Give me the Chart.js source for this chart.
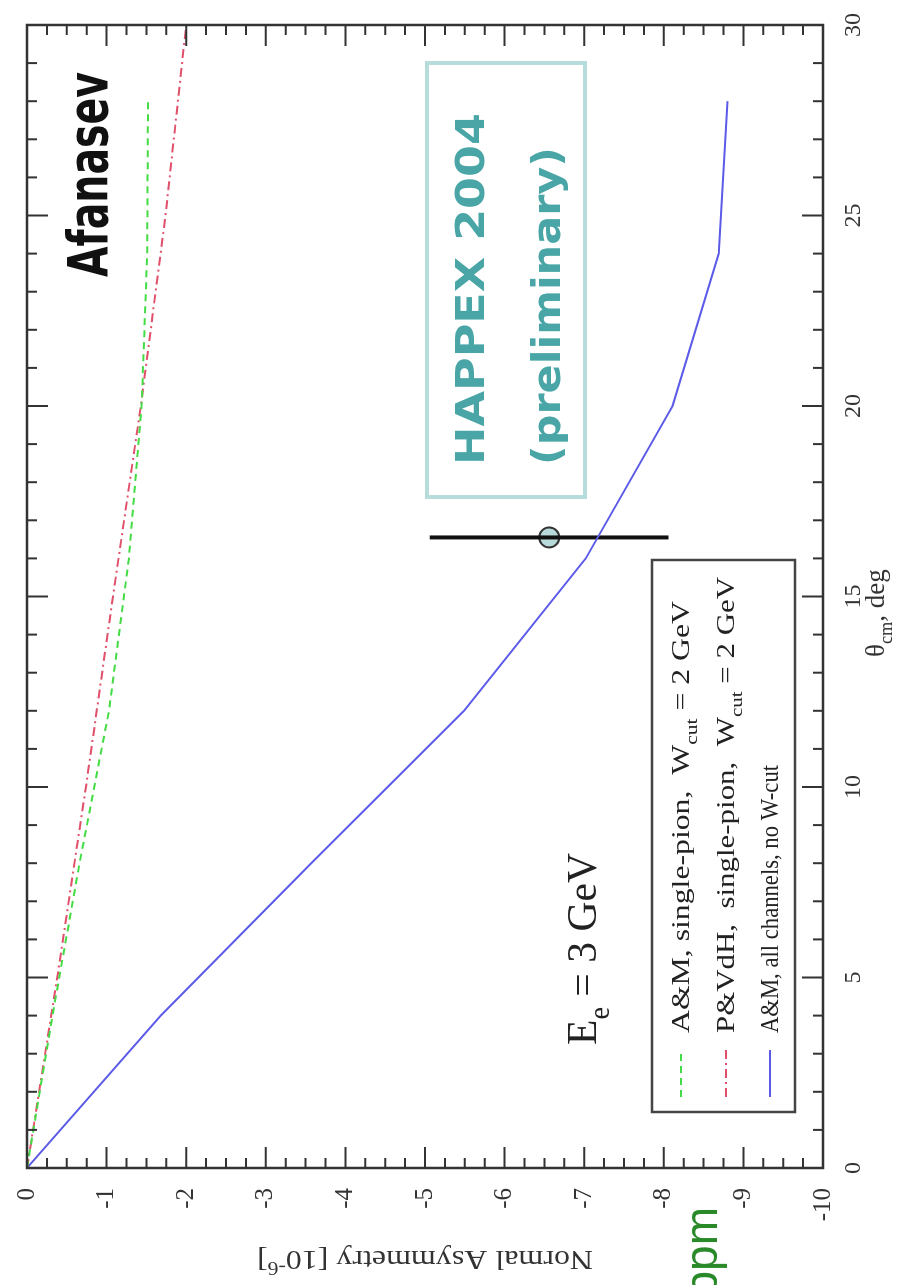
<!DOCTYPE html>
<html>
<head>
<meta charset="utf-8">
<script src="https://cdn.jsdelivr.net/npm/chart.js@4.4.1/dist/chart.umd.min.js"></script>
<style>
  html, body { margin: 0; padding: 0; background: #fff; width: 901px; height: 1285px; overflow: hidden; }
  /* the slide is turned a quarter turn counter-clockwise */
  #wrap { position: absolute; left: 0; top: 0; width: 1285px; height: 901px;
          transform-origin: 0 0; transform: translate(0, 1285px) rotate(-90deg); }
</style>
</head>
<body>
<div id="wrap"><canvas id="chart" width="1285" height="901"></canvas></div>
<script>
// theta_cm (deg) and normal asymmetry (10^-6)
const thetaAllCh = [0, 4, 8, 12, 16, 20, 24, 28];
const asymAllCh = [0, -1.68, -3.57, -5.49, -7.02, -8.11, -8.69, -8.80];
const thetaAMpion = [0, 4, 8, 12, 16, 20, 24, 28];
const asymAMpion = [0, -0.32, -0.66, -1.03, -1.28, -1.44, -1.51, -1.52];
const thetaPVdH = [0, 5, 10, 15, 20, 25, 30];
const asymPVdH = [0, -0.38, -0.74, -1.08, -1.43, -1.74, -2.0];

// HAPPEX 2004 point
const happexTheta = [16.55];
const happexAsym = [-6.56];
const happexErr = [1.5];

const xTickValues = [0, 5, 10, 15, 20, 25, 30];
const yTickValues = [0, -1, -2, -3, -4, -5, -6, -7, -8, -9, -10];

const serif = "'Liberation Serif', 'DejaVu Serif', serif";
const sans = "'DejaVu Sans', 'Liberation Sans', sans-serif";

function pts(xs, ys) {
  return xs.map((x, i) => ({ x: x, y: ys[i] }));
}

// text with sub/superscript pieces; parts = [[text, mode]] mode 0 normal, 1 sub, 2 sup
function richText(ctx, parts, x, y, size, family, color, fitWidth) {
  let w = 0;
  for (const [t, m] of parts) {
    ctx.font = (m ? size * 0.68 : size) + "px " + family;
    w += ctx.measureText(t).width;
  }
  const sx = fitWidth ? fitWidth / w : 1;
  ctx.save();
  ctx.translate(x, y);
  ctx.scale(sx, 1);
  ctx.fillStyle = color;
  ctx.textBaseline = "alphabetic";
  ctx.textAlign = "left";
  let cx = 0;
  for (const [t, m] of parts) {
    ctx.font = (m ? size * 0.68 : size) + "px " + family;
    const dy = m === 1 ? size * 0.3 : m === 2 ? -size * 0.4 : 0;
    ctx.fillText(t, cx, dy);
    cx += ctx.measureText(t).width;
  }
  ctx.restore();
  return w * sx;
}

function fitText(ctx, text, x, y, font, color, fitWidth) {
  ctx.save();
  ctx.font = font;
  const w = ctx.measureText(text).width;
  ctx.translate(x, y);
  ctx.scale(fitWidth / w, 1);
  ctx.fillStyle = color;
  ctx.textAlign = "left";
  ctx.textBaseline = "alphabetic";
  ctx.fillText(text, 0, 0);
  ctx.restore();
}

const legendRows = [
  [["A&M, single-pion,  W", 0], ["cut", 1], [" = 2 GeV", 0]],
  [["P&VdH,  single-pion,  W", 0], ["cut", 1], [" = 2 GeV", 0]],
  [["A&M, all channels, no W-cut", 0]]
];

// frame, inward ticks, titles, legend and notes
const decorPlugin = {
  id: "decor",
  afterDatasetsDraw(chart) {
    const ctx = chart.ctx;
    const a = chart.chartArea;
    const xs = chart.scales.x, ys = chart.scales.y;
    ctx.save();
    ctx.strokeStyle = "#333";
    ctx.lineWidth = 2.5;
    ctx.strokeRect(a.left, a.top, a.right - a.left, a.bottom - a.top);

    ctx.lineWidth = 2;
    ctx.beginPath();
    for (let t = 0; t <= 30; t++) {
      const px = xs.getPixelForValue(t);
      const len = t % 5 === 0 ? 21 : 10;
      ctx.moveTo(px, a.top); ctx.lineTo(px, a.top + len);
      ctx.moveTo(px, a.bottom); ctx.lineTo(px, a.bottom - len);
    }
    for (let k = 0; k <= 40; k++) {
      const v = -k * 0.25;
      const py = ys.getPixelForValue(v);
      const len = k % 4 === 0 ? 21 : 10;
      ctx.moveTo(a.left, py); ctx.lineTo(a.left + len, py);
      ctx.moveTo(a.right, py); ctx.lineTo(a.right - len, py);
    }
    ctx.stroke();

    // axis titles
    richText(ctx, [["\u03b8", 0], ["cm", 1], [", deg", 0]], 628, 884, 27, serif, "#333");
    ctx.save();
    ctx.translate(34, (a.top + a.bottom) / 2);
    ctx.rotate(-Math.PI / 2);
    richText(ctx, [["Normal Asymmetry [10", 0], ["-6", 2], ["]", 0]], -168, 0, 28, serif, "#333", 336);
    ctx.restore();

    // legend
    const lx0 = 173, lx1 = 725, ly0 = 652, ly1 = 795;
    ctx.fillStyle = "#fff";
    ctx.fillRect(lx0, ly0, lx1 - lx0, ly1 - ly0);
    ctx.strokeStyle = "#444";
    ctx.lineWidth = 2.5;
    ctx.strokeRect(lx0, ly0, lx1 - lx0, ly1 - ly0);
    const baselines = [689, 734, 778];
    const fits = [432, 456, 268];
    chart.data.datasets.slice(0, 3).forEach((ds, i) => {
      ctx.save();
      ctx.strokeStyle = ds.borderColor;
      ctx.lineWidth = ds.borderWidth;
      ctx.setLineDash(ds.borderDash || []);
      ctx.beginPath();
      ctx.moveTo(188, baselines[i] - 8);
      ctx.lineTo(235, baselines[i] - 8);
      ctx.stroke();
      ctx.restore();
      richText(ctx, legendRows[i], 252, baselines[i], 25, serif, "#222", fits[i]);
    });

    // beam energy
    richText(ctx, [["E", 0], ["e", 1], [" = 3 GeV", 0]], 240, 596, 42, serif, "#222", 192);

    // Afanasev
    fitText(ctx, "Afanasev", 1008, 107, "bold 56px " + sans, "#111", 205);

    // HAPPEX box
    ctx.strokeStyle = "#b7dcdc";
    ctx.lineWidth = 4;
    ctx.strokeRect(788, 427, 434, 158);
    fitText(ctx, "HAPPEX 2004", 820, 484, "bold 39px " + sans, "#4aa6a6", 352);
    fitText(ctx, "(preliminary)", 820, 560, "bold 39px " + sans, "#4aa6a6", 318);

    // slide text cut by the picture edge
    ctx.font = "46px 'Liberation Sans', Arial, sans-serif";
    ctx.fillStyle = "#2a8a2a";
    ctx.textAlign = "right";
    ctx.textBaseline = "alphabetic";
    ctx.fillText("ppm", 78, 717);
    ctx.restore();
  }
};

const ctx = document.getElementById("chart").getContext("2d");
const chart = new Chart(ctx, {
  type: "scatter",
  data: {
    datasets: [
      {
        label: "A&M, single-pion, W_cut = 2 GeV",
        data: pts(thetaAMpion, asymAMpion),
        showLine: true, pointRadius: 0,
        borderColor: "#44dc44", borderWidth: 2, borderDash: [7, 5]
      },
      {
        label: "P&VdH, single-pion, W_cut = 2 GeV",
        data: pts(thetaPVdH, asymPVdH),
        showLine: true, pointRadius: 0,
        borderColor: "#e0506a", borderWidth: 2, borderDash: [9, 4, 2, 4]
      },
      {
        label: "A&M, all channels, no W-cut",
        data: pts(thetaAllCh, asymAllCh),
        showLine: true, pointRadius: 0,
        borderColor: "#5b5be8", borderWidth: 2
      },
      {
        label: "HAPPEX error",
        data: [
          { x: happexTheta[0], y: happexAsym[0] + happexErr[0] },
          { x: happexTheta[0], y: happexAsym[0] - happexErr[0] }
        ],
        showLine: true, pointRadius: 0,
        borderColor: "#111", borderWidth: 4
      },
      {
        label: "HAPPEX 2004",
        data: pts(happexTheta, happexAsym),
        pointRadius: 10, pointBackgroundColor: "#b9dada",
        pointBorderColor: "#333", pointBorderWidth: 2
      }
    ]
  },
  options: {
    responsive: false,
    animation: false,
    devicePixelRatio: 1,
    layout: { padding: { left: 0, right: 25, top: 24, bottom: 0 } },
    plugins: { legend: { display: false }, tooltip: { enabled: false } },
    scales: {
      x: {
        type: "linear", min: 0, max: 30,
        grid: { display: false }, border: { display: false },
        afterBuildTicks: (s) => { s.ticks = xTickValues.map((v) => ({ value: v })); },
        afterFit: (s) => { s.height = 78; },
        ticks: { color: "#333", font: { family: serif, size: 24 }, padding: 8, maxRotation: 0, autoSkip: false }
      },
      y: {
        type: "linear", min: -10, max: 0,
        grid: { display: false }, border: { display: false },
        afterBuildTicks: (s) => { s.ticks = yTickValues.map((v) => ({ value: v })); },
        afterFit: (s) => { s.width = 117; },
        ticks: { color: "#333", font: { family: serif, size: 25 }, padding: 12, autoSkip: false }
      }
    }
  },
  plugins: [decorPlugin]
});
</script>
</body>
</html>
